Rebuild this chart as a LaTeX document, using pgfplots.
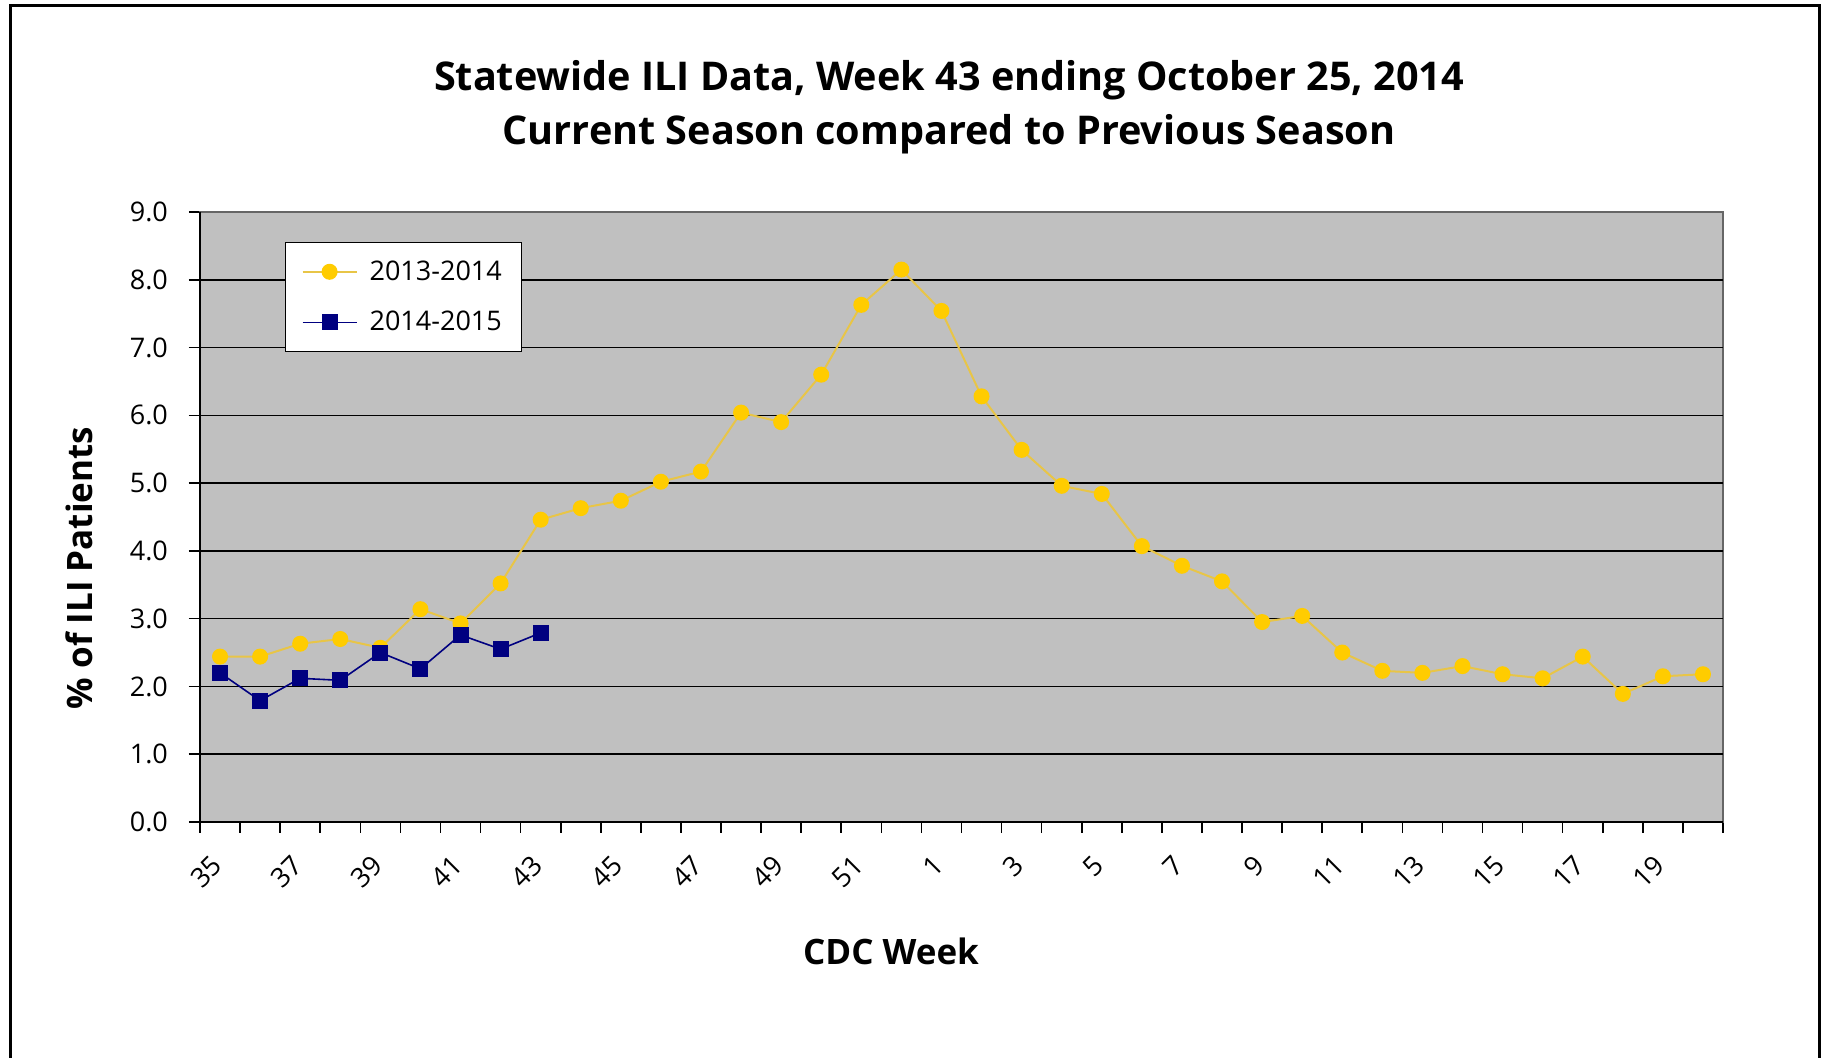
\documentclass[border=0pt]{standalone}
\usepackage{pgfplots}
\pgfplotsset{compat=1.18}
\usepackage{fontspec}
\setmainfont{Open Sans}
\definecolor{plotgray}{HTML}{C0C0C0}
\definecolor{gold}{HTML}{FFCC00}
\definecolor{goldline}{HTML}{E8C547}
\definecolor{navyblue}{HTML}{000080}
\begin{document}
\begin{tikzpicture}
\useasboundingbox (0,0) rectangle (913pt,529pt);
\draw[line width=1.5pt] (5pt,-2pt) -- (5pt,526pt) -- (909.5pt,526pt) -- (909.5pt,-2pt);
\node[font=\bfseries\fontsize{19.8}{23}\selectfont] at (474.5pt,489pt) {Statewide ILI Data, Week 43 ending October 25, 2014};
\node[font=\bfseries\fontsize{19.8}{23}\selectfont] at (474.5pt,462pt) {Current Season compared to Previous Season};
\node[font=\bfseries\fontsize{17.5}{20}\selectfont, rotate=90] at (39.5pt,245pt) {\% of ILI Patients};
\node[font=\bfseries\fontsize{17.5}{20}\selectfont] at (445.5pt,53.5pt) {CDC Week};
\begin{axis}[
  at={(100pt,118pt)}, anchor=south west,
  width=761.5pt, height=305pt, scale only axis,
  xmin=-0.5, xmax=37.5, ymin=0, ymax=9,
  axis background/.style={fill=plotgray},
  axis line style={draw=gray!80!black, line width=0.6pt},
  tick align=outside,
  major tick length=5.5pt,
  tick style={black, line width=0.8pt},
  xtick={-0.5,0.5,...,37.5},
  xticklabels={},
  extra x ticks={0,2,...,36},
  extra x tick labels={35,37,39,41,43,45,47,49,51,1,3,5,7,9,11,13,15,17,19},
  extra x tick style={major tick length=0pt, tick label style={xshift=1pt, yshift=-17pt, rotate=45, anchor=east, font=\fontsize{13.5}{15}\selectfont}},
  xtick pos=bottom,
  ytick={0,1,...,9},
  ytick pos=left,
  extra y ticks={1,...,8},
  extra y tick labels={},
  extra y tick style={grid=major},
  major grid style={black, line width=0.8pt},
  yticklabel style={xshift=-7pt, /pgf/number format/.cd, fixed, fixed zerofill, precision=1, assume math mode=true},
  tick label style={font=\fontsize{13.5}{15}\selectfont},
  legend style={at={(0.0558,0.951)}, anchor=north west, draw=black, fill=white, line width=0.6pt,
    font=\fontsize{13.5}{16}\selectfont, inner xsep=8pt, inner ysep=7pt, row sep=10pt},
  legend cell align=left,
  legend image code/.code={\draw[mark repeat=2,mark phase=2] plot coordinates {(0pt,0pt) (13.5pt,0pt) (27pt,0pt)}; \path (31pt,0pt);},
  after end axis/.code={\draw[black, line width=0.8pt] (rel axis cs:0,1) -- (rel axis cs:0,0) -- (rel axis cs:1,0);},
]
\addplot[color=goldline, line width=1pt, mark=*, mark size=3.5pt, mark options={fill=gold, draw=gold}] coordinates {
(0,2.44) (1,2.44) (2,2.63) (3,2.70) (4,2.57) (5,3.14) (6,2.93) (7,3.52) (8,4.46) (9,4.63)
(10,4.74) (11,5.02) (12,5.17) (13,6.04) (14,5.90) (15,6.60) (16,7.63) (17,8.15) (18,7.54) (19,6.28)
(20,5.49) (21,4.96) (22,4.84) (23,4.07) (24,3.78) (25,3.55) (26,2.95) (27,3.04) (28,2.50) (29,2.23)
(30,2.20) (31,2.30) (32,2.18) (33,2.12) (34,2.44) (35,1.89) (36,2.15) (37,2.18)
};
\addlegendentry{2013-2014}
\addplot[color=navyblue, line width=0.8pt, mark=square*, mark size=3.6pt, mark options={fill=navyblue, draw=navyblue}] coordinates {
(0,2.20) (1,1.79) (2,2.12) (3,2.09) (4,2.50) (5,2.26) (6,2.76) (7,2.55) (8,2.79)
};
\addlegendentry{2014-2015}
\end{axis}
\end{tikzpicture}
\end{document}
